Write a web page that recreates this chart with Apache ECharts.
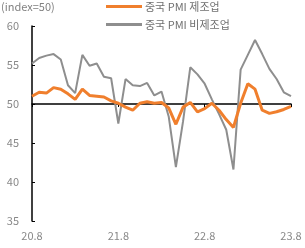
<!DOCTYPE html>
<html><head><meta charset="utf-8">
<script src="https://cdn.jsdelivr.net/npm/echarts@6/dist/echarts.min.js"></script>
<style>html,body{margin:0;padding:0;background:#fff}#c{width:305px;height:248px}</style>
</head><body><div id="c"></div>
<script>
const categories = ['20.8','20.9','20.10','20.11','20.12','21.1','21.2','21.3','21.4','21.5','21.6','21.7','21.8','21.9','21.10','21.11','21.12','22.1','22.2','22.3','22.4','22.5','22.6','22.7','22.8','22.9','22.10','22.11','22.12','23.1','23.2','23.3','23.4','23.5','23.6','23.7','23.8'];
const manufacturing = [51.0,51.5,51.4,52.1,51.9,51.3,50.6,51.9,51.1,51.0,50.9,50.4,50.1,49.6,49.2,50.1,50.3,50.1,50.2,49.5,47.4,49.6,50.2,49.0,49.4,50.1,49.2,48.0,47.0,50.1,52.6,51.9,49.2,48.8,49.0,49.3,49.7];
const nonManufacturing = [55.2,55.9,56.2,56.4,55.7,52.4,51.4,56.3,54.9,55.2,53.5,53.3,47.5,53.2,52.4,52.3,52.7,51.1,51.6,48.4,41.9,47.8,54.7,53.8,52.6,50.6,48.7,46.7,41.6,54.4,56.3,58.2,56.4,54.5,53.2,51.5,51.0];
const seriesNames = ['중국 PMI 제조업','중국 PMI 비제조업'];
const yTicks = [35,60,5];
const FONT = '"Noto Sans CJK KR", "Noto Sans", sans-serif';
const chart = echarts.init(document.getElementById('c'), null, {renderer:'canvas'});
chart.setOption({
  animation:false,
  backgroundColor:'#fff',
  textStyle:{fontFamily:FONT},
  title:{text:'(index=50)', left:1, top:1, padding:0, textStyle:{fontSize:11, fontWeight:'normal', color:'#808080', fontFamily:FONT}},
  legend:{
    orient:'vertical', left:101, top:1, padding:[0,5], itemWidth:36, itemHeight:3, itemGap:7,
    icon:'rect',
    textStyle:{fontSize:11, color:'#707070', fontFamily:FONT, padding:[0,0,0,-2]},
    data:[{name:seriesNames[0], itemStyle:{color:'#F07F2D'}},{name:seriesNames[1], itemStyle:{color:'#8E8E8E'}}]
  },
  grid:{left:32, right:14, top:26, bottom:27, containLabel:false},
  xAxis:[{
    type:'category', data:categories, boundaryGap:false, position:'bottom',
    axisLine:{show:false}, axisTick:{show:false},
    axisLabel:{interval:11, color:'#888', fontSize:11, margin:9, fontFamily:FONT}
  },{
    type:'category', data:categories, boundaryGap:false, position:'bottom', offset:-117,
    axisLine:{show:true, lineStyle:{color:'#000', width:1.5}},
    axisTick:{show:true, interval:11, length:3, lineStyle:{color:'#000'}},
    axisLabel:{show:false}
  }],
  yAxis:{
    type:'value', min:yTicks[0], max:yTicks[1], interval:yTicks[2],
    axisLine:{show:true, lineStyle:{color:'#000', width:1.5}},
    axisTick:{show:true, inside:true, length:3, lineStyle:{color:'#000'}},
    splitLine:{show:false},
    axisLabel:{color:'#888', fontSize:11, margin:13, fontFamily:FONT}
  },
  series:[{
    name:seriesNames[1], type:'line', data:nonManufacturing, symbol:'none', z:2,
    lineStyle:{color:'#8E8E8E', width:2}, itemStyle:{color:'#8E8E8E'}
  },{
    name:seriesNames[0], type:'line', data:manufacturing, symbol:'none', z:3,
    lineStyle:{color:'#F07F2D', width:3}, itemStyle:{color:'#F07F2D'}
  }]
});
</script></body></html>
